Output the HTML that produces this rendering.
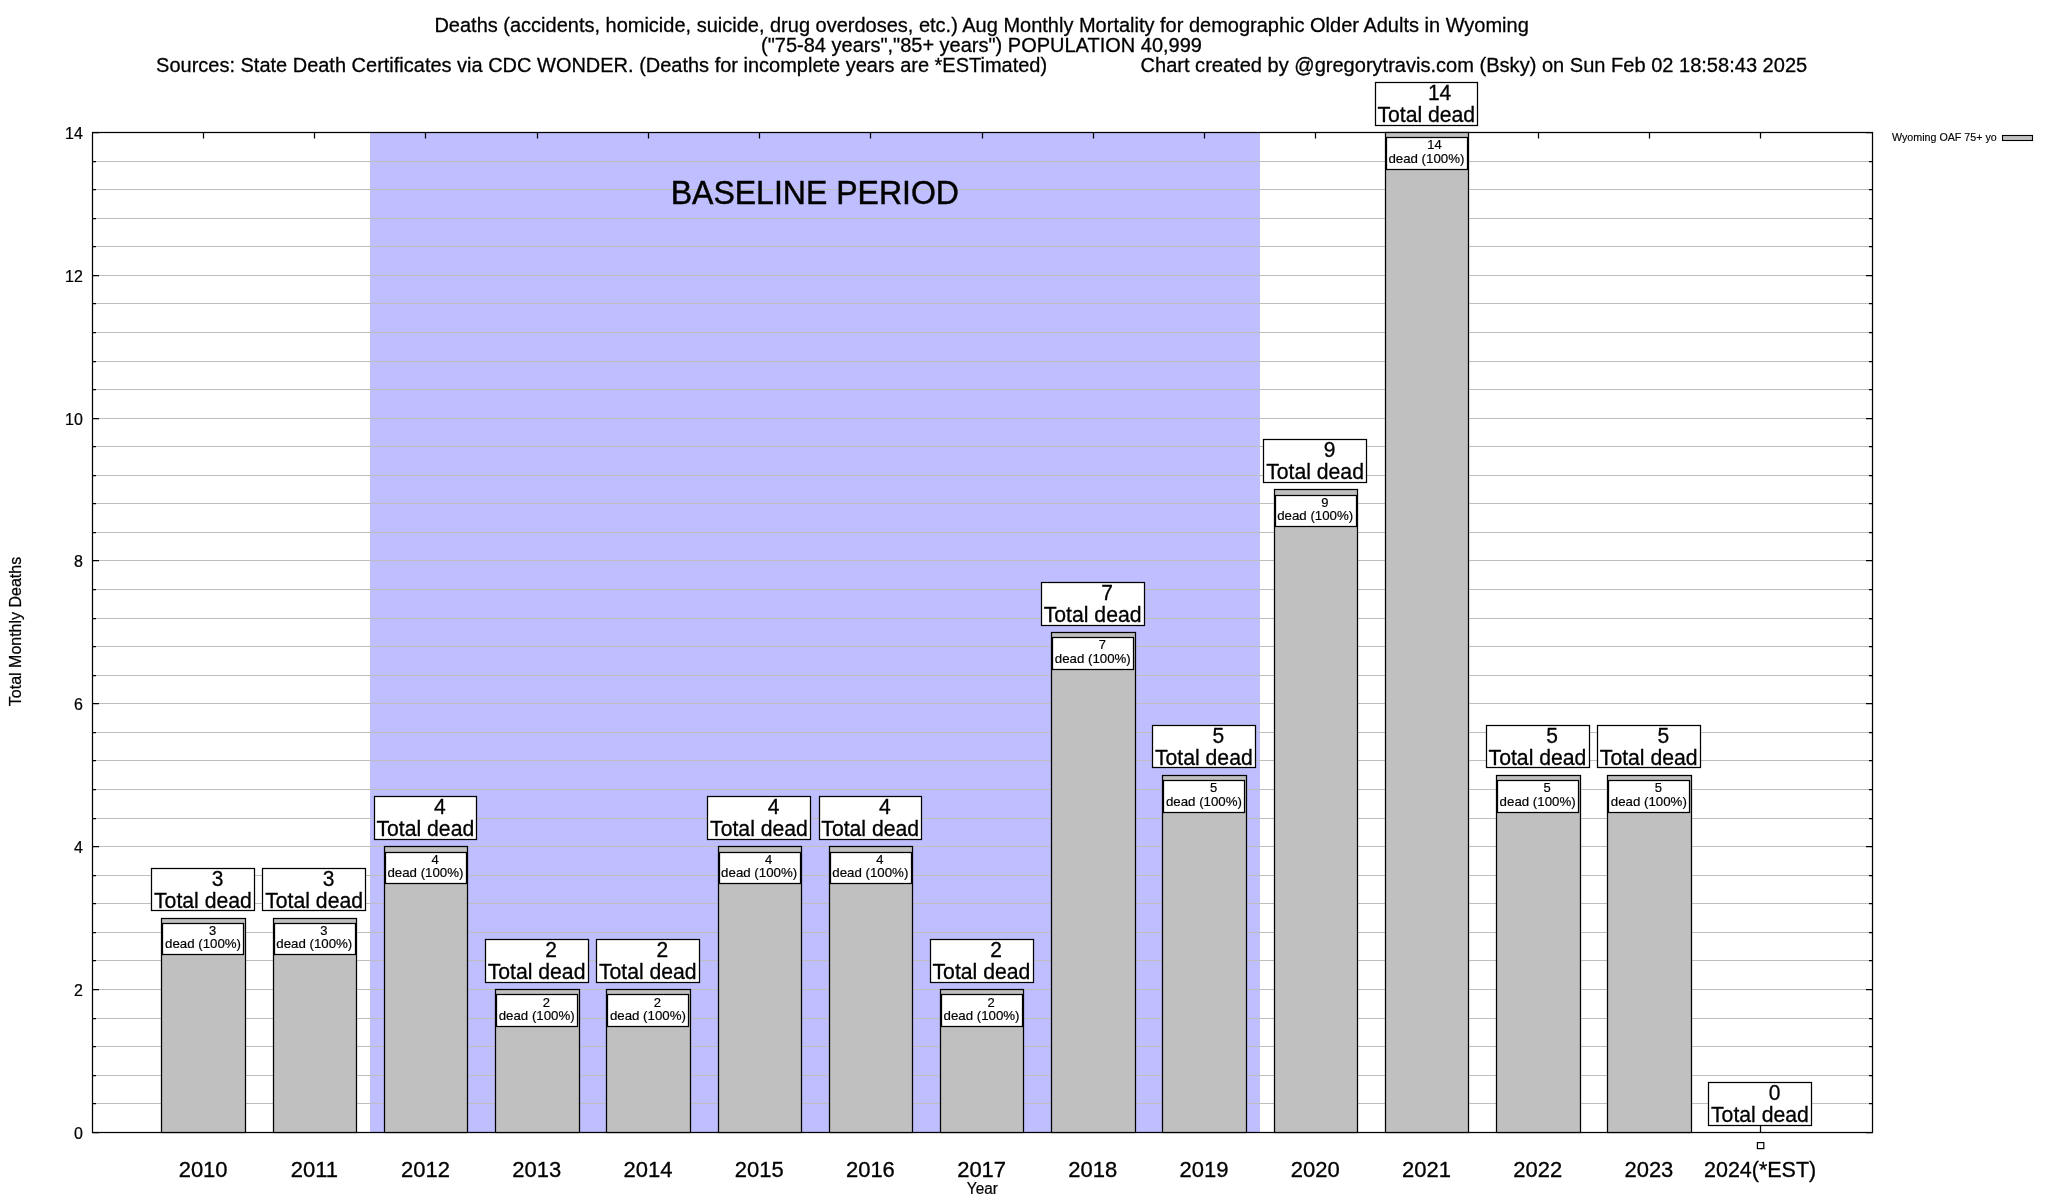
<!DOCTYPE html>
<html><head><meta charset="utf-8"><style>
html,body{margin:0;padding:0;background:#fff;width:2048px;height:1200px;overflow:hidden}
svg{display:block;will-change:transform}
text{font-family:"Liberation Sans",sans-serif;fill:#000;stroke:#000}
</style></head><body>
<svg width="2048" height="1200" viewBox="0 0 2048 1200">
<rect x="0" y="0" width="2048" height="1200" fill="#fff"/>
<rect x="370" y="132.5" width="890" height="1000.0" fill="#bfbfff"/>
<path d="M92.5 1103.5H1872.5M92.5 1075.5H1872.5M92.5 1046.5H1872.5M92.5 1018.5H1872.5M92.5 989.5H1872.5M92.5 960.5H1872.5M92.5 932.5H1872.5M92.5 903.5H1872.5M92.5 875.5H1872.5M92.5 846.5H1872.5M92.5 818.5H1872.5M92.5 789.5H1872.5M92.5 760.5H1872.5M92.5 732.5H1872.5M92.5 703.5H1872.5M92.5 675.5H1872.5M92.5 646.5H1872.5M92.5 618.5H1872.5M92.5 589.5H1872.5M92.5 560.5H1872.5M92.5 532.5H1872.5M92.5 503.5H1872.5M92.5 475.5H1872.5M92.5 446.5H1872.5M92.5 418.5H1872.5M92.5 389.5H1872.5M92.5 361.5H1872.5M92.5 332.5H1872.5M92.5 303.5H1872.5M92.5 275.5H1872.5M92.5 246.5H1872.5M92.5 218.5H1872.5M92.5 189.5H1872.5M92.5 161.5H1872.5" stroke="#bebebe" stroke-width="1.1" fill="none"/>
<path d="M92.5 1132.5h6.5M1872.5 1132.5h-6.5M92.5 1103.5h3.5M1872.5 1103.5h-3.5M92.5 1075.5h3.5M1872.5 1075.5h-3.5M92.5 1046.5h3.5M1872.5 1046.5h-3.5M92.5 1018.5h3.5M1872.5 1018.5h-3.5M92.5 989.5h6.5M1872.5 989.5h-6.5M92.5 960.5h3.5M1872.5 960.5h-3.5M92.5 932.5h3.5M1872.5 932.5h-3.5M92.5 903.5h3.5M1872.5 903.5h-3.5M92.5 875.5h3.5M1872.5 875.5h-3.5M92.5 846.5h6.5M1872.5 846.5h-6.5M92.5 818.5h3.5M1872.5 818.5h-3.5M92.5 789.5h3.5M1872.5 789.5h-3.5M92.5 760.5h3.5M1872.5 760.5h-3.5M92.5 732.5h3.5M1872.5 732.5h-3.5M92.5 703.5h6.5M1872.5 703.5h-6.5M92.5 675.5h3.5M1872.5 675.5h-3.5M92.5 646.5h3.5M1872.5 646.5h-3.5M92.5 618.5h3.5M1872.5 618.5h-3.5M92.5 589.5h3.5M1872.5 589.5h-3.5M92.5 560.5h6.5M1872.5 560.5h-6.5M92.5 532.5h3.5M1872.5 532.5h-3.5M92.5 503.5h3.5M1872.5 503.5h-3.5M92.5 475.5h3.5M1872.5 475.5h-3.5M92.5 446.5h3.5M1872.5 446.5h-3.5M92.5 418.5h6.5M1872.5 418.5h-6.5M92.5 389.5h3.5M1872.5 389.5h-3.5M92.5 361.5h3.5M1872.5 361.5h-3.5M92.5 332.5h3.5M1872.5 332.5h-3.5M92.5 303.5h3.5M1872.5 303.5h-3.5M92.5 275.5h6.5M1872.5 275.5h-6.5M92.5 246.5h3.5M1872.5 246.5h-3.5M92.5 218.5h3.5M1872.5 218.5h-3.5M92.5 189.5h3.5M1872.5 189.5h-3.5M92.5 161.5h3.5M1872.5 161.5h-3.5M92.5 132.5h6.5M1872.5 132.5h-6.5M203.5 132.5v6M203.5 1132.5v-6.5M314.5 132.5v6M314.5 1132.5v-6.5M425.5 132.5v6M425.5 1132.5v-6.5M537.5 132.5v6M537.5 1132.5v-6.5M648.5 132.5v6M648.5 1132.5v-6.5M759.5 132.5v6M759.5 1132.5v-6.5M870.5 132.5v6M870.5 1132.5v-6.5M982.5 132.5v6M982.5 1132.5v-6.5M1093.5 132.5v6M1093.5 1132.5v-6.5M1204.5 132.5v6M1204.5 1132.5v-6.5M1315.5 132.5v6M1315.5 1132.5v-6.5M1426.5 132.5v6M1426.5 1132.5v-6.5M1538.5 132.5v6M1538.5 1132.5v-6.5M1649.5 132.5v6M1649.5 1132.5v-6.5M1760.5 132.5v6M1760.5 1132.5v-6.5" stroke="#000" stroke-width="1.25" fill="none"/>
<rect x="92.5" y="132.5" width="1780.0" height="1000.0" fill="none" stroke="#000" stroke-width="1.25"/>
<rect x="161.5" y="918.5" width="84" height="214.0" fill="#c0c0c0" stroke="#000" stroke-width="1.25"/>
<rect x="273.5" y="918.5" width="83" height="214.0" fill="#c0c0c0" stroke="#000" stroke-width="1.25"/>
<rect x="384.5" y="846.5" width="83" height="286.0" fill="#c0c0c0" stroke="#000" stroke-width="1.25"/>
<rect x="495.5" y="989.5" width="84" height="143.0" fill="#c0c0c0" stroke="#000" stroke-width="1.25"/>
<rect x="606.5" y="989.5" width="84" height="143.0" fill="#c0c0c0" stroke="#000" stroke-width="1.25"/>
<rect x="718.5" y="846.5" width="83" height="286.0" fill="#c0c0c0" stroke="#000" stroke-width="1.25"/>
<rect x="829.5" y="846.5" width="83" height="286.0" fill="#c0c0c0" stroke="#000" stroke-width="1.25"/>
<rect x="940.5" y="989.5" width="83" height="143.0" fill="#c0c0c0" stroke="#000" stroke-width="1.25"/>
<rect x="1051.5" y="632.5" width="84" height="500.0" fill="#c0c0c0" stroke="#000" stroke-width="1.25"/>
<rect x="1162.5" y="775.5" width="84" height="357.0" fill="#c0c0c0" stroke="#000" stroke-width="1.25"/>
<rect x="1274.5" y="489.5" width="83" height="643.0" fill="#c0c0c0" stroke="#000" stroke-width="1.25"/>
<rect x="1385.5" y="132.5" width="83" height="1000.0" fill="#c0c0c0" stroke="#000" stroke-width="1.25"/>
<rect x="1496.5" y="775.5" width="84" height="357.0" fill="#c0c0c0" stroke="#000" stroke-width="1.25"/>
<rect x="1607.5" y="775.5" width="84" height="357.0" fill="#c0c0c0" stroke="#000" stroke-width="1.25"/>
<text transform="translate(82.80,1139.30) scale(1,1.044)" font-size="16" stroke-width="0.224" text-anchor="end">0</text>
<text transform="translate(82.80,996.30) scale(1,1.044)" font-size="16" stroke-width="0.224" text-anchor="end">2</text>
<text transform="translate(82.80,853.30) scale(1,1.044)" font-size="16" stroke-width="0.224" text-anchor="end">4</text>
<text transform="translate(82.80,710.30) scale(1,1.044)" font-size="16" stroke-width="0.224" text-anchor="end">6</text>
<text transform="translate(82.80,567.30) scale(1,1.044)" font-size="16" stroke-width="0.224" text-anchor="end">8</text>
<text transform="translate(82.80,425.30) scale(1,1.044)" font-size="16" stroke-width="0.224" text-anchor="end">10</text>
<text transform="translate(82.80,282.30) scale(1,1.044)" font-size="16" stroke-width="0.224" text-anchor="end">12</text>
<text transform="translate(82.80,139.30) scale(1,1.044)" font-size="16" stroke-width="0.224" text-anchor="end">14</text>
<text transform="translate(203.10,1177.20) scale(1,1.044)" font-size="22" stroke-width="0.308" text-anchor="middle">2010</text>
<text transform="translate(314.31,1177.20) scale(1,1.044)" font-size="22" stroke-width="0.308" text-anchor="middle">2011</text>
<text transform="translate(425.53,1177.20) scale(1,1.044)" font-size="22" stroke-width="0.308" text-anchor="middle">2012</text>
<text transform="translate(536.74,1177.20) scale(1,1.044)" font-size="22" stroke-width="0.308" text-anchor="middle">2013</text>
<text transform="translate(647.96,1177.20) scale(1,1.044)" font-size="22" stroke-width="0.308" text-anchor="middle">2014</text>
<text transform="translate(759.17,1177.20) scale(1,1.044)" font-size="22" stroke-width="0.308" text-anchor="middle">2015</text>
<text transform="translate(870.39,1177.20) scale(1,1.044)" font-size="22" stroke-width="0.308" text-anchor="middle">2016</text>
<text transform="translate(981.60,1177.20) scale(1,1.044)" font-size="22" stroke-width="0.308" text-anchor="middle">2017</text>
<text transform="translate(1092.81,1177.20) scale(1,1.044)" font-size="22" stroke-width="0.308" text-anchor="middle">2018</text>
<text transform="translate(1204.03,1177.20) scale(1,1.044)" font-size="22" stroke-width="0.308" text-anchor="middle">2019</text>
<text transform="translate(1315.24,1177.20) scale(1,1.044)" font-size="22" stroke-width="0.308" text-anchor="middle">2020</text>
<text transform="translate(1426.46,1177.20) scale(1,1.044)" font-size="22" stroke-width="0.308" text-anchor="middle">2021</text>
<text transform="translate(1537.67,1177.20) scale(1,1.044)" font-size="22" stroke-width="0.308" text-anchor="middle">2022</text>
<text transform="translate(1648.89,1177.20) scale(1,1.044)" font-size="22" stroke-width="0.308" text-anchor="middle">2023</text>
<text transform="translate(1760.10,1177.20) scale(1,1.044)" font-size="22" stroke-width="0.308" text-anchor="middle" textLength="112.2" lengthAdjust="spacingAndGlyphs">2024(*EST)</text>
<text transform="translate(982.30,1193.70) scale(1,1.044)" font-size="15.3" stroke-width="0.214" text-anchor="middle">Year</text>
<text transform="translate(20.6,631.5) rotate(-90) scale(1,1.044)" font-size="16" stroke-width="0.224" text-anchor="middle">Total Monthly Deaths</text>
<text transform="translate(814.80,203.80) scale(1,1.044)" font-size="32" stroke-width="0.448" text-anchor="middle" textLength="288.3" lengthAdjust="spacingAndGlyphs">BASELINE PERIOD</text>
<rect x="151.5" y="868.5" width="103" height="42" fill="#fff" stroke="#000" stroke-width="1.25"/>
<text transform="translate(217.50,885.60) scale(1,1.044)" font-size="21" stroke-width="0.294" text-anchor="middle">3</text>
<text transform="translate(202.90,907.70) scale(1,1.044)" font-size="21.2" stroke-width="0.297" text-anchor="middle">Total dead</text>
<rect x="162.5" y="923.5" width="81" height="31" fill="#fff" stroke="#000" stroke-width="1.25"/>
<text transform="translate(212.60,935.09) scale(1,1.044)" font-size="13" stroke-width="0.182" text-anchor="middle">3</text>
<text transform="translate(203.05,948.39) scale(1,1.044)" font-size="13" stroke-width="0.182" text-anchor="middle" textLength="76" lengthAdjust="spacingAndGlyphs">dead (100%)</text>
<rect x="262.5" y="868.5" width="103" height="42" fill="#fff" stroke="#000" stroke-width="1.25"/>
<text transform="translate(328.71,885.60) scale(1,1.044)" font-size="21" stroke-width="0.294" text-anchor="middle">3</text>
<text transform="translate(314.11,907.70) scale(1,1.044)" font-size="21.2" stroke-width="0.297" text-anchor="middle">Total dead</text>
<rect x="274.5" y="923.5" width="81" height="31" fill="#fff" stroke="#000" stroke-width="1.25"/>
<text transform="translate(323.81,935.09) scale(1,1.044)" font-size="13" stroke-width="0.182" text-anchor="middle">3</text>
<text transform="translate(314.26,948.39) scale(1,1.044)" font-size="13" stroke-width="0.182" text-anchor="middle" textLength="76" lengthAdjust="spacingAndGlyphs">dead (100%)</text>
<rect x="374.5" y="796.5" width="102" height="43" fill="#fff" stroke="#000" stroke-width="1.25"/>
<text transform="translate(439.93,813.60) scale(1,1.044)" font-size="21" stroke-width="0.294" text-anchor="middle">4</text>
<text transform="translate(425.33,835.70) scale(1,1.044)" font-size="21.2" stroke-width="0.297" text-anchor="middle">Total dead</text>
<rect x="385.5" y="852.5" width="81" height="31" fill="#fff" stroke="#000" stroke-width="1.25"/>
<text transform="translate(435.03,863.67) scale(1,1.044)" font-size="13" stroke-width="0.182" text-anchor="middle">4</text>
<text transform="translate(425.48,876.97) scale(1,1.044)" font-size="13" stroke-width="0.182" text-anchor="middle" textLength="76" lengthAdjust="spacingAndGlyphs">dead (100%)</text>
<rect x="485.5" y="939.5" width="103" height="43" fill="#fff" stroke="#000" stroke-width="1.25"/>
<text transform="translate(551.14,956.60) scale(1,1.044)" font-size="21" stroke-width="0.294" text-anchor="middle">2</text>
<text transform="translate(536.54,978.70) scale(1,1.044)" font-size="21.2" stroke-width="0.297" text-anchor="middle">Total dead</text>
<rect x="496.5" y="994.5" width="81" height="32" fill="#fff" stroke="#000" stroke-width="1.25"/>
<text transform="translate(546.24,1006.51) scale(1,1.044)" font-size="13" stroke-width="0.182" text-anchor="middle">2</text>
<text transform="translate(536.69,1019.81) scale(1,1.044)" font-size="13" stroke-width="0.182" text-anchor="middle" textLength="76" lengthAdjust="spacingAndGlyphs">dead (100%)</text>
<rect x="596.5" y="939.5" width="103" height="43" fill="#fff" stroke="#000" stroke-width="1.25"/>
<text transform="translate(662.36,956.60) scale(1,1.044)" font-size="21" stroke-width="0.294" text-anchor="middle">2</text>
<text transform="translate(647.76,978.70) scale(1,1.044)" font-size="21.2" stroke-width="0.297" text-anchor="middle">Total dead</text>
<rect x="607.5" y="994.5" width="81" height="32" fill="#fff" stroke="#000" stroke-width="1.25"/>
<text transform="translate(657.46,1006.51) scale(1,1.044)" font-size="13" stroke-width="0.182" text-anchor="middle">2</text>
<text transform="translate(647.91,1019.81) scale(1,1.044)" font-size="13" stroke-width="0.182" text-anchor="middle" textLength="76" lengthAdjust="spacingAndGlyphs">dead (100%)</text>
<rect x="707.5" y="796.5" width="103" height="43" fill="#fff" stroke="#000" stroke-width="1.25"/>
<text transform="translate(773.57,813.60) scale(1,1.044)" font-size="21" stroke-width="0.294" text-anchor="middle">4</text>
<text transform="translate(758.97,835.70) scale(1,1.044)" font-size="21.2" stroke-width="0.297" text-anchor="middle">Total dead</text>
<rect x="719.5" y="852.5" width="81" height="31" fill="#fff" stroke="#000" stroke-width="1.25"/>
<text transform="translate(768.67,863.67) scale(1,1.044)" font-size="13" stroke-width="0.182" text-anchor="middle">4</text>
<text transform="translate(759.12,876.97) scale(1,1.044)" font-size="13" stroke-width="0.182" text-anchor="middle" textLength="76" lengthAdjust="spacingAndGlyphs">dead (100%)</text>
<rect x="819.5" y="796.5" width="102" height="43" fill="#fff" stroke="#000" stroke-width="1.25"/>
<text transform="translate(884.79,813.60) scale(1,1.044)" font-size="21" stroke-width="0.294" text-anchor="middle">4</text>
<text transform="translate(870.19,835.70) scale(1,1.044)" font-size="21.2" stroke-width="0.297" text-anchor="middle">Total dead</text>
<rect x="830.5" y="852.5" width="81" height="31" fill="#fff" stroke="#000" stroke-width="1.25"/>
<text transform="translate(879.89,863.67) scale(1,1.044)" font-size="13" stroke-width="0.182" text-anchor="middle">4</text>
<text transform="translate(870.34,876.97) scale(1,1.044)" font-size="13" stroke-width="0.182" text-anchor="middle" textLength="76" lengthAdjust="spacingAndGlyphs">dead (100%)</text>
<rect x="930.5" y="939.5" width="103" height="43" fill="#fff" stroke="#000" stroke-width="1.25"/>
<text transform="translate(996.00,956.60) scale(1,1.044)" font-size="21" stroke-width="0.294" text-anchor="middle">2</text>
<text transform="translate(981.40,978.70) scale(1,1.044)" font-size="21.2" stroke-width="0.297" text-anchor="middle">Total dead</text>
<rect x="941.5" y="994.5" width="81" height="32" fill="#fff" stroke="#000" stroke-width="1.25"/>
<text transform="translate(991.10,1006.51) scale(1,1.044)" font-size="13" stroke-width="0.182" text-anchor="middle">2</text>
<text transform="translate(981.55,1019.81) scale(1,1.044)" font-size="13" stroke-width="0.182" text-anchor="middle" textLength="76" lengthAdjust="spacingAndGlyphs">dead (100%)</text>
<rect x="1041.5" y="582.5" width="103" height="43" fill="#fff" stroke="#000" stroke-width="1.25"/>
<text transform="translate(1107.21,599.60) scale(1,1.044)" font-size="21" stroke-width="0.294" text-anchor="middle">7</text>
<text transform="translate(1092.61,621.70) scale(1,1.044)" font-size="21.2" stroke-width="0.297" text-anchor="middle">Total dead</text>
<rect x="1052.5" y="637.5" width="81" height="32" fill="#fff" stroke="#000" stroke-width="1.25"/>
<text transform="translate(1102.31,649.41) scale(1,1.044)" font-size="13" stroke-width="0.182" text-anchor="middle">7</text>
<text transform="translate(1092.76,662.71) scale(1,1.044)" font-size="13" stroke-width="0.182" text-anchor="middle" textLength="76" lengthAdjust="spacingAndGlyphs">dead (100%)</text>
<rect x="1152.5" y="725.5" width="103" height="42" fill="#fff" stroke="#000" stroke-width="1.25"/>
<text transform="translate(1218.43,742.60) scale(1,1.044)" font-size="21" stroke-width="0.294" text-anchor="middle">5</text>
<text transform="translate(1203.83,764.70) scale(1,1.044)" font-size="21.2" stroke-width="0.297" text-anchor="middle">Total dead</text>
<rect x="1163.5" y="780.5" width="81" height="32" fill="#fff" stroke="#000" stroke-width="1.25"/>
<text transform="translate(1213.53,792.25) scale(1,1.044)" font-size="13" stroke-width="0.182" text-anchor="middle">5</text>
<text transform="translate(1203.98,805.55) scale(1,1.044)" font-size="13" stroke-width="0.182" text-anchor="middle" textLength="76" lengthAdjust="spacingAndGlyphs">dead (100%)</text>
<rect x="1263.5" y="439.5" width="103" height="43" fill="#fff" stroke="#000" stroke-width="1.25"/>
<text transform="translate(1329.64,456.60) scale(1,1.044)" font-size="21" stroke-width="0.294" text-anchor="middle">9</text>
<text transform="translate(1315.04,478.70) scale(1,1.044)" font-size="21.2" stroke-width="0.297" text-anchor="middle">Total dead</text>
<rect x="1275.5" y="495.5" width="81" height="31" fill="#fff" stroke="#000" stroke-width="1.25"/>
<text transform="translate(1324.74,506.57) scale(1,1.044)" font-size="13" stroke-width="0.182" text-anchor="middle">9</text>
<text transform="translate(1315.19,519.87) scale(1,1.044)" font-size="13" stroke-width="0.182" text-anchor="middle" textLength="76" lengthAdjust="spacingAndGlyphs">dead (100%)</text>
<rect x="1375.5" y="82.5" width="102" height="43" fill="#fff" stroke="#000" stroke-width="1.25"/>
<text transform="translate(1439.56,99.60) scale(1,1.044)" font-size="21" stroke-width="0.294" text-anchor="middle">14</text>
<text transform="translate(1426.26,121.70) scale(1,1.044)" font-size="21.2" stroke-width="0.297" text-anchor="middle">Total dead</text>
<rect x="1386.5" y="137.5" width="81" height="32" fill="#fff" stroke="#000" stroke-width="1.25"/>
<text transform="translate(1434.46,149.47) scale(1,1.044)" font-size="13" stroke-width="0.182" text-anchor="middle">14</text>
<text transform="translate(1426.41,162.77) scale(1,1.044)" font-size="13" stroke-width="0.182" text-anchor="middle" textLength="76" lengthAdjust="spacingAndGlyphs">dead (100%)</text>
<rect x="1486.5" y="725.5" width="103" height="42" fill="#fff" stroke="#000" stroke-width="1.25"/>
<text transform="translate(1552.07,742.60) scale(1,1.044)" font-size="21" stroke-width="0.294" text-anchor="middle">5</text>
<text transform="translate(1537.47,764.70) scale(1,1.044)" font-size="21.2" stroke-width="0.297" text-anchor="middle">Total dead</text>
<rect x="1497.5" y="780.5" width="81" height="32" fill="#fff" stroke="#000" stroke-width="1.25"/>
<text transform="translate(1547.17,792.25) scale(1,1.044)" font-size="13" stroke-width="0.182" text-anchor="middle">5</text>
<text transform="translate(1537.62,805.55) scale(1,1.044)" font-size="13" stroke-width="0.182" text-anchor="middle" textLength="76" lengthAdjust="spacingAndGlyphs">dead (100%)</text>
<rect x="1597.5" y="725.5" width="103" height="42" fill="#fff" stroke="#000" stroke-width="1.25"/>
<text transform="translate(1663.29,742.60) scale(1,1.044)" font-size="21" stroke-width="0.294" text-anchor="middle">5</text>
<text transform="translate(1648.69,764.70) scale(1,1.044)" font-size="21.2" stroke-width="0.297" text-anchor="middle">Total dead</text>
<rect x="1608.5" y="780.5" width="81" height="32" fill="#fff" stroke="#000" stroke-width="1.25"/>
<text transform="translate(1658.39,792.25) scale(1,1.044)" font-size="13" stroke-width="0.182" text-anchor="middle">5</text>
<text transform="translate(1648.84,805.55) scale(1,1.044)" font-size="13" stroke-width="0.182" text-anchor="middle" textLength="76" lengthAdjust="spacingAndGlyphs">dead (100%)</text>
<rect x="1708.5" y="1082.5" width="103" height="43" fill="#fff" stroke="#000" stroke-width="1.25"/>
<text transform="translate(1774.50,1099.60) scale(1,1.044)" font-size="21" stroke-width="0.294" text-anchor="middle">0</text>
<text transform="translate(1759.90,1121.70) scale(1,1.044)" font-size="21.2" stroke-width="0.297" text-anchor="middle">Total dead</text>
<rect x="1757.40" y="1142.6" width="6.4" height="6" fill="#fff" stroke="#000" stroke-width="1.2"/>
<text transform="translate(1892.00,141.00) scale(1,1.044)" font-size="10.7" stroke-width="0.150">Wyoming OAF 75+ yo</text>
<rect x="2002.5" y="135.5" width="30" height="5" fill="#c0c0c0" stroke="#000" stroke-width="1.1"/>
<text transform="translate(981.60,32.00) scale(1,1.044)" font-size="20" stroke-width="0.280" text-anchor="middle">Deaths (accidents, homicide, suicide, drug overdoses, etc.) Aug Monthly Mortality for demographic Older Adults in Wyoming</text>
<text transform="translate(981.50,52.00) scale(1,1.044)" font-size="20" stroke-width="0.280" text-anchor="middle">("75-84 years","85+ years") POPULATION 40,999</text>
<text transform="translate(156.10,72.00) scale(1,1.044)" font-size="20" stroke-width="0.280" textLength="891" lengthAdjust="spacingAndGlyphs">Sources: State Death Certificates via CDC WONDER. (Deaths for incomplete years are *ESTimated)</text>
<text transform="translate(1807.20,72.00) scale(1,1.044)" font-size="20" stroke-width="0.280" text-anchor="end" textLength="666.7" lengthAdjust="spacingAndGlyphs">Chart created by @gregorytravis.com (Bsky) on Sun Feb 02 18:58:43 2025</text>
</svg>
</body></html>
